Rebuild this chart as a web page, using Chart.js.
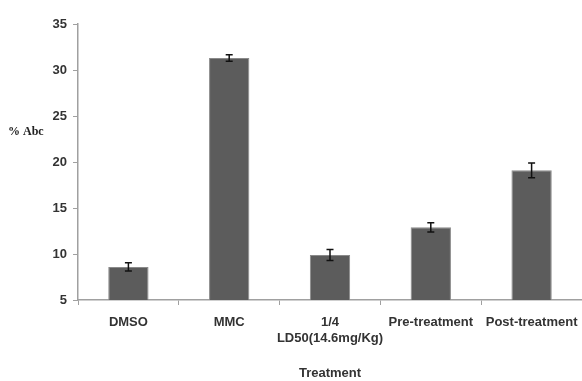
<!DOCTYPE html>
<html>
<head>
<meta charset="utf-8">
<script src="https://cdn.jsdelivr.net/npm/chart.js@4"></script>
<style>
  html, body { margin: 0; padding: 0; background: #fff; }
  #wrap { width: 582px; height: 381px; position: relative; }
</style>
</head>
<body>
<div id="wrap"><canvas id="abcChart"></canvas></div>
<script>
const categories = ['DMSO', 'MMC', ['1/4', 'LD50(14.6mg/Kg)'], 'Pre-treatment', 'Post-treatment'];
const abcValues = [8.6, 31.3, 9.9, 12.9, 19.1];
const abcErrors = [0.45, 0.35, 0.6, 0.5, 0.8];
const yTicks = [5, 10, 15, 20, 25, 30, 35];

const labelFont = { family: 'Liberation Sans', size: 13, weight: 'bold' };

// error bars + horizontal y label
const extras = {
    id: 'extras',
    afterDatasetsDraw(chart) {
        const ctx = chart.ctx;
        const meta = chart.getDatasetMeta(0);
        const y = chart.scales.y;
        ctx.save();
        ctx.strokeStyle = '#111';
        ctx.lineWidth = 1.5;
        meta.data.forEach(function (bar, i) {
            const top = y.getPixelForValue(abcValues[i] + abcErrors[i]);
            const bot = y.getPixelForValue(abcValues[i] - abcErrors[i]);
            const x = bar.x;
            ctx.beginPath();
            ctx.moveTo(x, top); ctx.lineTo(x, bot);
            ctx.moveTo(x - 3.5, top); ctx.lineTo(x + 3.5, top);
            ctx.moveTo(x - 3.5, bot); ctx.lineTo(x + 3.5, bot);
            ctx.stroke();
        });
        ctx.fillStyle = '#222';
        ctx.font = 'bold 12px "Liberation Serif"';
        ctx.textBaseline = 'middle';
        ctx.fillText('% Abc', 8, 132);
        ctx.restore();
    }
};

new Chart(document.getElementById('abcChart'), {
    type: 'bar',
    data: {
        labels: categories,
        datasets: [{
            data: abcValues,
            backgroundColor: '#5c5c5c',
            borderColor: '#8a8a8a',
            borderWidth: 1,
            categoryPercentage: 1,
            barPercentage: 0.4
        }]
    },
    options: {
        responsive: true,
        maintainAspectRatio: false,
        animation: false,
        layout: { padding: { left: 0, right: 0, top: 24, bottom: 0 } },
        scales: {
            x: {
                afterFit(scale) { scale.height = 81; scale.paddingLeft = 0; scale.paddingRight = 0; },
                grid: { display: true, offset: true, drawOnChartArea: false, drawTicks: true, tickLength: 5, color: '#a0a0a0' },
                border: { color: '#a0a0a0', width: 1.5 },
                ticks: { color: '#333', font: labelFont, padding: 10, maxRotation: 0, autoSkip: false },
                title: { display: true, text: 'Treatment', color: '#333', font: labelFont, padding: { top: 20, bottom: 0 } }
            },
            y: {
                min: 5,
                max: 35,
                afterFit(scale) { scale.width = 78; },
                afterBuildTicks(scale) { scale.ticks = yTicks.map(v => ({ value: v })); },
                grid: { display: true, drawOnChartArea: false, drawTicks: true, tickLength: 5, color: '#a0a0a0' },
                border: { color: '#a0a0a0', width: 1.5 },
                ticks: { color: '#333', font: labelFont, padding: 6 }
            }
        },
        plugins: {
            legend: { display: false },
            tooltip: { enabled: false }
        }
    },
    plugins: [extras]
});
</script>
</body>
</html>
